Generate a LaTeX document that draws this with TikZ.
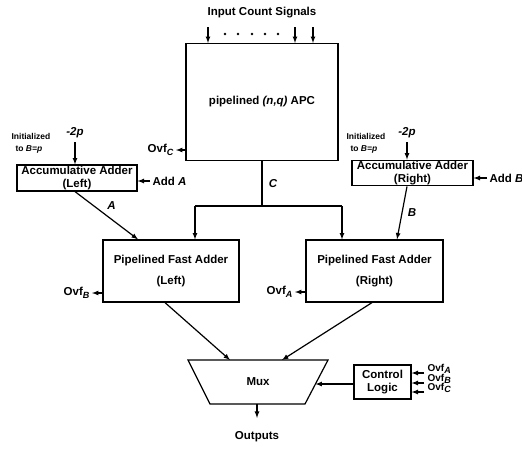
\documentclass[tikz,border=0pt]{standalone}
\usepackage{fontspec}
\setmainfont{Liberation Sans}
\usepackage{tikz}
\usetikzlibrary{arrows}

\newcommand{\ovf}[1]{Ovf\raisebox{-0.45ex}{\fontsize{9}{9}\selectfont\itshape #1}}

\begin{document}
\begin{tikzpicture}[x=1pt, y=-1pt, line width=1.2pt, >=latex,
    every node/.style={font=\bfseries\fontsize{11.5}{13}\selectfont},
    box/.style={draw, align=center, inner sep=1pt},
    small/.style={font=\bfseries\fontsize{8.5}{12}\selectfont, align=left, anchor=west, inner sep=0pt}]
    \useasboundingbox (0,0) rectangle (522,448);

    % Blocks
    \node[box, minimum width=152pt, minimum height=117pt] (apc) at (262,102) {pipelined \textit{(n,q)} APC};
    \node[box, minimum width=120pt, minimum height=26pt] (accL) at (77,178) {Accumulative Adder\\(Left)};
    \node[box, minimum width=121pt, minimum height=22pt] (accR) at (412.5,173) {Accumulative Adder\\(Right)};
    \node[box, minimum width=136pt, minimum height=62pt] (fastL) at (171,271) {Pipelined Fast Adder\\[8pt](Left)};
    \node[box, minimum width=137pt, minimum height=62pt] (fastR) at (374.5,271) {Pipelined Fast Adder\\[8pt](Right)};
    \node[box, minimum width=57pt, minimum height=34pt] (ctrl) at (382.5,382) {Control\\Logic};

    % Mux
    \draw (188,360) -- (328,360) -- (305,404) -- (210,404) -- cycle;
    \node (mux) at (258,382) {Mux};
    \coordinate (muxinL) at (230,360);
    \coordinate (muxinR) at (282,360);
    \coordinate (muxout) at (257,404);
    \coordinate (muxside) at (315.5,384);

    % Inputs
    \node (title) at (262,13) {Input Count Signals};
    \foreach \x in {208,295,313} {
        \coordinate (in\x) at (\x,27);
        \draw[->] (in\x) -- (in\x |- apc.north);
    }
    \foreach \x in {225,238,252,265,278}
        \fill (\x,34) circle (1.3pt);

    % Ovf of the APC
    \coordinate (ovfc) at (176,150);
    \draw[->] (apc.west |- ovfc) -- (ovfc);
    \node[anchor=east, inner sep=2pt] (lovfc) at (ovfc) {\ovf{C}};

    % Left accumulator
    \node (m2pL) at (75,133) {\textit{-2p}};
    \draw[->] (m2pL.south) -- (m2pL.south |- accL.north);
    \node[small] (initL) at (11,143) {Initialized\\\hspace*{4pt}to \textit{B=p}};
    \node[anchor=west, inner sep=2pt] (addA) at (150,181) {Add \textit{A}};
    \draw[->] (addA.west) -- (addA.west -| accL.east);

    % Right accumulator
    \node (m2pR) at (407,133) {\textit{-2p}};
    \draw[->] (m2pR.south) -- (m2pR.south |- accR.north);
    \node[small] (initR) at (346,143) {Initialized\\\hspace*{4pt}to \textit{B=p}};
    \node[anchor=west, inner sep=2pt] (addB) at (487,178) {Add \textit{B}};
    \draw[->] (addB.west) -- (addB.west -| accR.east);

    % C bus
    \coordinate (cjoin) at (262,206);
    \coordinate (cL) at (195,206);
    \coordinate (cR) at (342,206);
    \draw (apc.south) -- (cjoin) node[pos=0.5, right=3pt] (lc) {\textit{C}};
    \draw (cL) -- (cR);
    \draw[->] (cL) -- (cL |- fastL.north);
    \draw[->] (cR) -- (cR |- fastR.north);

    % A and B
    \draw[->] ([xshift=-2pt]accL.south) -- ([xshift=-33pt]fastL.north)
        node[pos=0.45, above right=0pt] (la) {\textit{A}};
    \draw[->] ([xshift=-5.5pt]accR.south) -- ([xshift=22.5pt]fastR.north)
        node[pos=0.5, right=2pt] (lb) {\textit{B}};

    % Ovf of the fast adders
    \coordinate (ovfb) at (92,293);
    \draw[->] (fastL.west |- ovfb) -- (ovfb);
    \node[anchor=east, inner sep=2pt] (lovfb) at (ovfb) {\ovf{B}};
    \coordinate (ovfa) at (295,292);
    \draw[->] (fastR.west |- ovfa) -- (ovfa);
    \node[anchor=east, inner sep=2pt] (lovfa) at (ovfa) {\ovf{A}};

    % To the mux
    \draw[->] ([xshift=-6pt]fastL.south) -- (muxinL);
    \draw[->] ([xshift=-2.5pt]fastR.south) -- (muxinR);
    \draw[->] (ctrl.west |- muxside) -- (muxside);
    \node (out) at (257,437) {Outputs};
    \draw[->] (muxout) -- ([yshift=10pt]out.north);

    % Control inputs
    \foreach \s/\y in {A/373, B/383, C/392} {
        \coordinate (ovin\s) at (424,\y);
        \draw[->] (ovin\s) -- (ovin\s -| ctrl.east);
        \node[anchor=west, inner sep=0pt, yshift=4pt,
            font=\bfseries\fontsize{10}{10}\selectfont] (lovin\s) at ([xshift=3pt]ovin\s) {\ovf{\s}};
    }
\end{tikzpicture}
\end{document}
